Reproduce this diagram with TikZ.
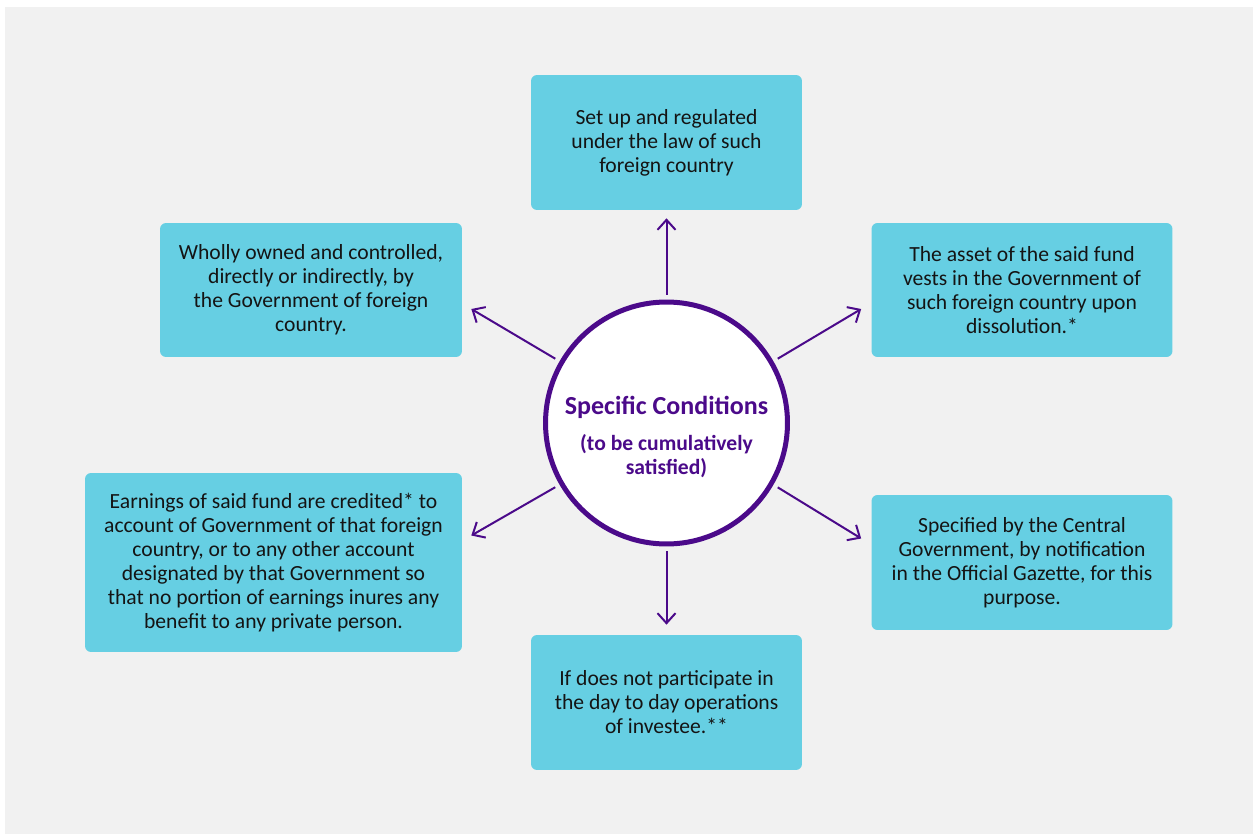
\documentclass[tikz,border=0pt]{standalone}
\usepackage{fontspec}
\setmainfont{Carlito}
\usetikzlibrary{arrows.meta}

\definecolor{pagegray}{HTML}{F1F1F1}
\definecolor{boxcyan}{HTML}{66CFE3}
\definecolor{hubpurple}{HTML}{4B0A8A}
\definecolor{inktext}{HTML}{141414}

\begin{document}
\begin{tikzpicture}[x=0.02cm, y=-0.02cm,
	condbox/.style={fill=boxcyan, rounded corners=0.12cm, align=center, text=inktext,
		font=\fontsize{12.3}{13.7}\selectfont, inner sep=0pt},
	hub/.style={circle, draw=hubpurple, line width=0.1cm, fill=white, minimum size=4.84cm,
		inner sep=0pt},
	hubtext/.style={align=center, text=hubpurple, font=\bfseries\fontsize{12.3}{13.7}\selectfont},
	spoke/.style={draw=hubpurple, line width=0.04cm, shorten <=0.1cm,
		-{Straight Barb[length=0.2cm, width=0.36cm, line width=0.04cm]}}]

	% page and its gray panel
	\useasboundingbox (0,0) rectangle (1253,834);
	\fill[pagegray] (5,7) rectangle (1253,834);

	% centre
	\node[hub] (hub) at (666.5,423) {};
	\node[hubtext] (hublabel) at ([yshift=-0.28cm]hub.center)
		{{\fontsize{14.8}{18}\selectfont Specific Conditions}\\[7pt]
		(to be cumulatively\\ satisfied)};

	% the six conditions
	\node[condbox, minimum width=5.42cm, minimum height=2.7cm] (top) at (666.5,142.5)
		{Set up and regulated\\ under the law of such\\ foreign country};
	\node[condbox, minimum width=6.04cm, minimum height=2.68cm] (ownd) at (311,290)
		{Wholly owned and controlled,\\ directly or indirectly, by\\ the Government of foreign\\ country.};
	\node[condbox, minimum width=6.02cm, minimum height=2.68cm] (asset) at (1022,290)
		{The asset of the said fund\\ vests in the Government of\\ such foreign country upon\\ dissolution.*};
	\node[condbox, minimum width=7.54cm, minimum height=3.58cm] (earn) at (273.5,562.5)
		{Earnings of said fund are credited* to\\ account of Government of that foreign\\ country, or to any other account\\ designated by that Government so\\ that no portion of earnings inures any\\ benefit to any private person.};
	\node[condbox, minimum width=6.02cm, minimum height=2.7cm] (notif) at (1022,562.5)
		{Specified by the Central\\ Government, by notification\\ in the Official Gazette, for this\\ purpose.};
	\node[condbox, minimum width=5.42cm, minimum height=2.7cm] (ops) at (666.5,702.5)
		{If does not participate in\\ the day to day operations\\ of investee.**};

	% arrows out of the circle
	\draw[spoke] (hub.north) -- ([yshift=-0.16cm]top.south);
	\draw[spoke] (hub.south) -- ([yshift=0.2cm]ops.north);
	\draw[spoke] (hub.150) -- ([shift={(9,19)}]ownd.east);
	\draw[spoke] (hub.30) -- ([shift={(-10,19)}]asset.west);
	\draw[spoke] (hub.210) -- ([shift={(9,-27)}]earn.east);
	\draw[spoke] (hub.330) -- ([shift={(-10,-24)}]notif.west);

\end{tikzpicture}
\end{document}
